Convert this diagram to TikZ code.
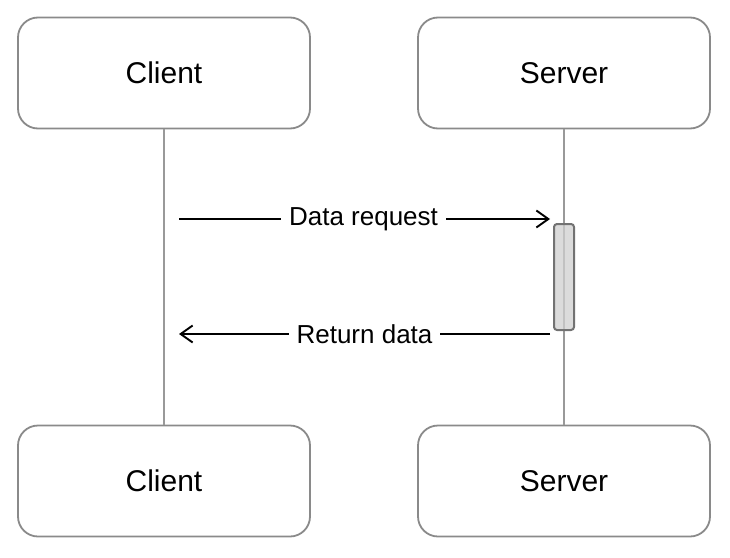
\documentclass[tikz,border=0pt]{standalone}
\usepackage{fontspec}
\setmainfont{Liberation Sans}
\usetikzlibrary{arrows.meta}
\definecolor{boxgray}{HTML}{8A8A8A}
\definecolor{linegray}{HTML}{999999}
\definecolor{actfill}{HTML}{CFCFCF}
\definecolor{actdraw}{HTML}{727272}
\begin{document}
\begin{tikzpicture}[x=1pt,y=-1pt,
  actor/.style={draw=boxgray,line width=1.8pt,rounded corners=20pt,minimum width=292pt,minimum height=111pt,fill=white,inner sep=0pt,font=\fontsize{30}{34}\selectfont},
  life/.style={draw=linegray,line width=2pt},
  msg/.style={draw=black,line width=1.9pt,-{Straight Barb[length=12pt,width=17pt,line width=1.9pt]}},
  lbl/.style={fill=white,inner xsep=8pt,inner ysep=2pt,font=\fontsize{26}{30}\selectfont},
  act/.style={draw=actdraw,fill=actfill,fill opacity=0.75,draw opacity=1,line width=2pt,rounded corners=3pt,minimum width=20pt,minimum height=106pt,inner sep=0pt}]
\useasboundingbox (0,0) rectangle (730,557);
\node[actor] (c1) at (164,73) {Client};
\node[actor] (s1) at (564,73) {Server};
\node[actor] (c2) at (164,481) {Client};
\node[actor] (s2) at (564,481) {Server};
\draw[life] (c1.south) -- (c2.north);
\draw[life] (s1.south) -- (s2.north);
\node[act] (bar) at (564,277) {};
\coordinate (a1) at (179,219);
\coordinate (a2) at (550,219);
\coordinate (b1) at (550,334);
\coordinate (b2) at (179,334);
\draw[msg] (a1) -- (a2) node[lbl,midway,xshift=-1pt] (l1) {Data request};
\draw[msg] (b1) -- (b2) node[lbl,midway] (l2) {Return data};
\end{tikzpicture}
\end{document}
